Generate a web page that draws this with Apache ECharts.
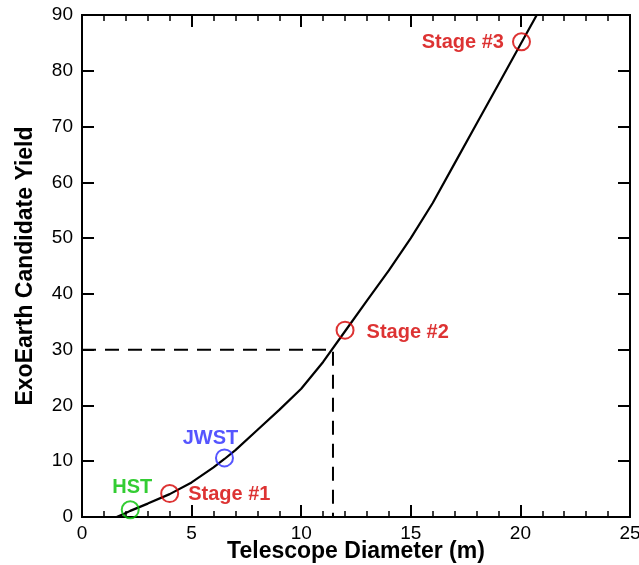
<!DOCTYPE html>
<html>
<head>
<meta charset="utf-8">
<script src="https://cdn.jsdelivr.net/npm/echarts@6/dist/echarts.min.js"></script>
<style>html,body{margin:0;padding:0;background:#fff}#c{width:639px;height:565px}</style>
</head>
<body>
<div id="c"></div>
<script>
// Yield curve (telescope diameter in m, exoEarth candidate yield)
var curveX = [1.58, 2, 2.2, 3, 4, 5, 6, 6.5, 7, 8, 9, 10, 11, 12, 13, 14, 15, 16, 17, 18, 19, 20, 21];
var curveY = [0, 0.7, 1.1, 2.4, 4.1, 6.2, 8.9, 10.4, 12.0, 15.6, 19.2, 23.0, 27.8, 33.3, 38.8, 44.2, 50.0, 56.3, 63.4, 70.5, 77.6, 84.7, 91.8];
// Reference dashed guide (30 yield)
var guideX = [0, 11.45, 11.45];
var guideY = [30, 30, 0];
// Named telescopes
var pointNames = ['HST', 'Stage #1', 'JWST', 'Stage #2', 'Stage #3'];
var pointX = [2.2, 4.0, 6.5, 12.0, 20.05];
var pointY = [1.3, 4.2, 10.6, 33.5, 85.2];
var xTicks = [0, 5, 10, 15, 20, 25];
var yTicks = [0, 10, 20, 30, 40, 50, 60, 70, 80, 90];

var RED = '#d40000', BLUE = '#2a2aff', GREEN = '#00c000';
var pointStyle = {
  'HST': {color: GREEN, pos: 'top', off: [2, 3]},
  'Stage #1': {color: RED, pos: 'right', off: [3, 1]},
  'JWST': {color: BLUE, pos: 'top', off: [-14, 6]},
  'Stage #2': {color: RED, pos: 'right', off: [6, 2]},
  'Stage #3': {color: RED, pos: 'left', off: [-2, 1]}
};
var FONT = '"Liberation Sans", Arial, Helvetica, sans-serif';

var chart = echarts.init(document.getElementById('c'), null, {renderer: 'canvas'});
var curve = curveX.map(function (x, i) { return [x, curveY[i]]; });
var guide = guideX.map(function (x, i) { return [x, guideY[i]]; });
var pts = pointNames.map(function (n, i) {
  var s = pointStyle[n];
  return {
    name: n, value: [pointX[i], pointY[i]],
    itemStyle: {color: 'rgba(0,0,0,0)', borderColor: s.color, borderWidth: 2},
    label: {show: true, formatter: n, position: s.pos, offset: s.off, color: s.color,
      fontSize: 20, fontWeight: 'bold', fontFamily: FONT, distance: 6}
  };
});

function xAx(pos, showLabels, interval, tickLen) {
  return {
    type: 'value', position: pos, min: 0, max: 25, interval: interval,
    name: showLabels ? 'Telescope Diameter (m)' : '',
    nameLocation: 'middle', nameGap: 23, nameMoveOverlap: false,
    nameTextStyle: {fontSize: 23, fontWeight: 'bold', color: '#000', fontFamily: FONT},
    axisLine: {show: true, onZero: false, lineStyle: {color: '#000', width: 2}},
    axisTick: {show: true, inside: true, length: tickLen, lineStyle: {color: '#000', width: tickLen > 8 ? 2 : 1.5}},
    axisLabel: {show: showLabels, fontSize: 19, color: '#000', margin: 7, fontFamily: FONT,
      formatter: function (v) { return xTicks.indexOf(v) >= 0 ? String(v) : ''; }},
    splitLine: {show: false}
  };
}
function yAx(pos, showLabels) {
  return {
    type: 'value', position: pos, min: 0, max: 90, interval: 10,
    name: showLabels ? 'ExoEarth Candidate Yield' : '',
    nameLocation: 'middle', nameGap: 45, nameMoveOverlap: false,
    nameTextStyle: {fontSize: 23, fontWeight: 'bold', color: '#000', fontFamily: FONT},
    axisLine: {show: true, onZero: false, lineStyle: {color: '#000', width: 2}},
    axisTick: {show: true, inside: true, length: 12, lineStyle: {color: '#000', width: 2}},
    axisLabel: {show: showLabels, fontSize: 19, color: '#000', margin: 9, fontFamily: FONT,
      formatter: function (v) { return yTicks.indexOf(v) >= 0 ? String(v) : ''; }},
    splitLine: {show: false}
  };
}

chart.setOption({
  animation: false,
  backgroundColor: '#fff',
  grid: {left: 82, right: 9, top: 15, bottom: 48, containLabel: false, outerBoundsMode: 'none'},
  xAxis: [xAx('bottom', true, 5, 12), xAx('bottom', false, 1, 6), xAx('top', false, 5, 12), xAx('top', false, 1, 6)],
  yAxis: [yAx('left', true), yAx('right', false)],
  series: [
    {type: 'line', data: curve, showSymbol: false, symbol: 'none', clip: true,
      lineStyle: {color: '#000', width: 2.2}, z: 3},
    {type: 'line', data: guide, showSymbol: false, symbol: 'none',
      lineStyle: {color: '#000', width: 2, type: [14, 9]}, z: 2},
    {type: 'scatter', data: pts, symbol: 'circle', symbolSize: 17, z: 5}
  ]
});
</script>
</body>
</html>
